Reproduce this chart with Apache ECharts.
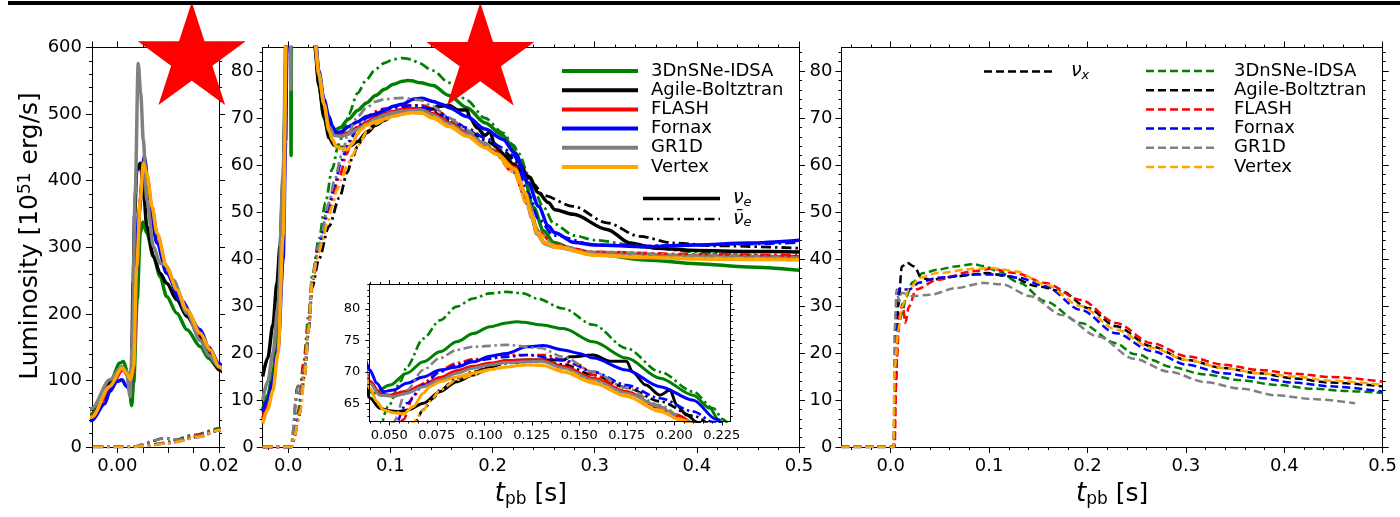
<!DOCTYPE html>
<html>
<head>
<meta charset="utf-8">
<script src="https://cdn.jsdelivr.net/npm/echarts@6/dist/echarts.min.js"></script>
<style>
  html, body { margin: 0; padding: 0; background: #fff; }
  #chart { width: 1400px; height: 517px; }
</style>
</head>
<body>
<div id="chart"></div>
<script>
// ---------------------------------------------------------------------------
// Neutrino luminosities (10^51 erg/s) versus post-bounce time t_pb (s)
// ---------------------------------------------------------------------------

// 3DnSNe-IDSA
const idsaNue = [[-0.025,8],[-0.02,11],[-0.015,16],[-0.01,25],[-0.007,35],[-0.005,50],[-0.003,72],[-0.0015,96],[0.0005,126],[0.0012,128.5],[0.0022,106],[0.0028,62],[0.0032,96],[0.0039,221],[0.0045,321],[0.005,338],[0.0058,321],[0.0071,286],[0.0084,256],[0.0097,226],[0.0117,201],[0.0137,176],[0.0163,151],[0.018,133],[0.02,117],[0.023,98],[0.026,86],[0.03,77],[0.035,70],[0.04,66.8],[0.0416,66.6],[0.0504,67.9],[0.0592,69.8],[0.0679,71.6],[0.0767,73.2],[0.0855,74.8],[0.0942,76.1],[0.103,77.2],[0.1118,77.8],[0.117,78.0],[0.1205,77.9],[0.1294,77.5],[0.1416,76.9],[0.1574,74.8],[0.1749,72.2],[0.1925,69.0],[0.21,66.3],[0.2188,64.2],[0.2232,62.4],[0.23,58],[0.24,51],[0.25,46],[0.26,43.5],[0.28,42],[0.3,41],[0.35,39.8],[0.4,39],[0.45,38.3],[0.5,37.6]];
const idsaAnue = [[-0.025,0],[0.003,0],[0.006,2],[0.008,5],[0.01,8],[0.015,18],[0.02,28],[0.0234,36.3],[0.03,44.1],[0.0365,52],[0.043,59.1],[0.0495,64.5],[0.056,68.5],[0.0592,70.8],[0.0679,75.3],[0.0767,78.2],[0.0855,80.4],[0.0942,81.7],[0.103,82.5],[0.1118,82.75],[0.1205,82.5],[0.1276,81.7],[0.1416,80.1],[0.1574,77.5],[0.1749,73.75],[0.1925,70.0],[0.21,66.85],[0.2205,64.2],[0.2258,62.4],[0.235,58],[0.25,51],[0.26,47.5],[0.28,45],[0.3,44],[0.35,42.5],[0.4,41.5],[0.45,40.8],[0.5,40.3]];
const idsaNux = [[-0.05,0],[0.003,0],[0.0045,12],[0.006,22],[0.0085,26],[0.0113,28.4],[0.016,32],[0.022,35],[0.033,37.0],[0.0475,37.7],[0.0657,38.4],[0.0839,38.9],[0.0945,38.5],[0.109,37.4],[0.131,34.9],[0.157,31.0],[0.193,26.4],[0.229,22.1],[0.247,19.8],[0.254,19.6],[0.265,18.5],[0.283,17.1],[0.32,15.4],[0.356,14.2],[0.392,13.2],[0.429,12.4],[0.465,11.9],[0.5,11.5]];

// Agile-Boltztran
const agileNue = [[-0.025,15],[-0.02,19],[-0.015,26],[-0.011,35],[-0.008,43],[-0.005,57],[-0.003,72],[-0.0015,100],[0.0009,118],[0.0018,112],[0.0026,88],[0.0028,120],[0.0031,250],[0.0034,350],[0.0038,415],[0.0045,426],[0.005,400],[0.0058,331],[0.0071,286],[0.0084,261],[0.0097,246],[0.0117,221],[0.0137,196],[0.0163,166],[0.018,140],[0.02,116],[0.023,97],[0.026,85],[0.03,77],[0.035,70.5],[0.04,65.8],[0.045,64.2],[0.05,63.8],[0.055,63.7],[0.06,63.95],[0.0679,65.0],[0.0767,66.85],[0.0855,68.45],[0.0942,69.5],[0.103,70.8],[0.1118,71.8],[0.1223,71.9],[0.1416,71.9],[0.145,72.4],[0.1574,72.7],[0.1662,71.7],[0.1749,71.7],[0.178,70.0],[0.185,67.9],[0.1925,66.3],[0.1978,67.1],[0.2013,64.7],[0.2065,63.15],[0.212,62.0],[0.22,60.2],[0.235,57.6],[0.245,54.1],[0.2547,52],[0.261,50.5],[0.279,49.5],[0.312,46.3],[0.3346,43.4],[0.36,42.3],[0.4,41.8],[0.45,41.6],[0.5,41.5]];
const agileAnue = [[-0.025,0],[0.003,0],[0.005,3],[0.007,9],[0.0085,12.5],[0.0097,13],[0.0115,11],[0.014,13],[0.017,18],[0.02,25],[0.0235,34],[0.03,40],[0.04,47],[0.05,53],[0.058,58.5],[0.0627,61.5],[0.0679,63.95],[0.0732,65.8],[0.0767,67.1],[0.0855,69.0],[0.0942,70.0],[0.103,70.8],[0.1118,71.4],[0.1294,71.7],[0.1416,71.2],[0.1574,69.5],[0.1749,67.5],[0.1925,65.3],[0.21,63],[0.225,60.5],[0.24,56],[0.25,53.5],[0.279,51.2],[0.312,47.7],[0.344,44.8],[0.377,43.4],[0.42,42.8],[0.5,42.3]];
const agileNux = [[-0.05,0],[0.003,0],[0.005,12],[0.0077,29.9],[0.0113,38.4],[0.0167,39.2],[0.024,38.4],[0.0312,36.0],[0.0403,35.6],[0.0657,36.3],[0.098,37.0],[0.12,36.3],[0.149,34.2],[0.174,33.1],[0.2,29.6],[0.229,25.7],[0.265,21.4],[0.301,18.5],[0.338,16.8],[0.374,15.7],[0.41,14.6],[0.447,13.7],[0.5,12.9]];

// FLASH
const flashNue = [[-0.025,6],[-0.02,9],[-0.015,13],[-0.01,21],[-0.005,46],[-0.0025,72],[-0.001,95],[0.001,116],[0.0018,110],[0.0026,90],[0.0032,120],[0.0038,270],[0.0045,370],[0.0051,422],[0.0058,408],[0.0068,360],[0.0078,320],[0.0097,270],[0.0117,235],[0.0137,205],[0.0163,170],[0.0183,145],[0.02,120],[0.023,100],[0.026,87],[0.03,79.5],[0.035,73],[0.04,68.5],[0.045,66.6],[0.05,66.3],[0.0592,66.9],[0.0679,68.0],[0.0767,69.1],[0.0855,70.2],[0.0942,70.9],[0.103,71.4],[0.1118,71.8],[0.1223,71.9],[0.13,71.9],[0.1416,70.9],[0.1574,69.0],[0.1749,66.85],[0.1925,64.3],[0.2,63.2],[0.222,59.5],[0.232,54],[0.2385,49],[0.2434,45.5],[0.2515,43.4],[0.261,42.7],[0.3,41.2],[0.35,40.8],[0.4,40.6],[0.45,40.5],[0.5,40.5]];
const flashAnue = [[-0.025,0],[0.003,0],[0.006,2],[0.01,6],[0.0155,18],[0.02,26],[0.0235,35],[0.03,42.5],[0.04,50.5],[0.05,57.5],[0.0574,62.4],[0.0627,66.1],[0.0679,68.2],[0.0767,70.3],[0.0855,71.4],[0.0942,72.0],[0.1118,72.7],[0.1311,72.7],[0.1499,71.1],[0.1574,69.5],[0.1749,66.85],[0.1925,64.2],[0.2,63],[0.22,58.5],[0.235,51.5],[0.245,46],[0.26,43],[0.3,41.5],[0.4,41],[0.5,40.8]];
const flashNux = [[-0.05,0],[0.004,0],[0.006,18],[0.009,28],[0.012,30.5],[0.0149,26.4],[0.0186,29.9],[0.0258,33.5],[0.0475,35.6],[0.0839,37.4],[0.102,37.9],[0.127,37.0],[0.157,34.9],[0.193,31.3],[0.229,26.4],[0.265,22.1],[0.301,19.3],[0.338,17.5],[0.374,16.4],[0.41,15.6],[0.447,14.9],[0.5,13.9]];

// Fornax
const fornaxNue = [[-0.025,7.5],[-0.02,10],[-0.015,14],[-0.01,21],[-0.005,40],[-0.0025,65],[-0.0015,83.5],[-0.0001,98.5],[0.0009,101],[0.0018,91],[0.0025,86],[0.0032,150],[0.0042,350],[0.0053,436],[0.0064,361],[0.0078,306],[0.0097,261],[0.0124,221],[0.0163,176],[0.018,150],[0.02,125],[0.023,103],[0.026,88],[0.03,80],[0.035,74],[0.0398,70.3],[0.0434,68.2],[0.047,66.85],[0.0522,67.1],[0.0592,68.2],[0.0679,69.2],[0.0767,70.3],[0.0855,70.8],[0.0942,71.6],[0.103,72.5],[0.1118,72.95],[0.1223,74.0],[0.1311,74.2],[0.1416,73.5],[0.1499,72.95],[0.1574,72.2],[0.1749,70.3],[0.1925,67.65],[0.21,65.5],[0.2223,62.4],[0.235,56.2],[0.245,51.2],[0.2547,47.0],[0.261,45.6],[0.28,43.5],[0.3,43.0],[0.35,42.6],[0.4,43.0],[0.45,43.4],[0.5,44.0]];
const fornaxAnue = [[-0.025,0],[0.003,0],[0.0045,1],[0.01,6],[0.016,15],[0.02,25],[0.0235,35],[0.03,43],[0.04,51.5],[0.045,55.5],[0.0522,61],[0.0592,65.0],[0.0679,67.9],[0.0767,70.0],[0.0855,71.1],[0.0942,71.8],[0.1118,72.4],[0.1223,72.7],[0.1416,71.9],[0.1574,70.0],[0.1749,67.9],[0.1925,65.8],[0.21,63.7],[0.2205,62],[0.235,54],[0.245,48.5],[0.26,45],[0.3,43],[0.35,42.8],[0.4,43.0],[0.45,43.2],[0.5,43.5]];
const fornaxNux = [[-0.05,0],[0.003,0],[0.0052,28.5],[0.0077,33.5],[0.0186,33.5],[0.0294,35],[0.0475,36],[0.0839,36.7],[0.109,36.7],[0.131,36.0],[0.157,34.2],[0.193,29.2],[0.229,24.2],[0.265,20.4],[0.301,17.5],[0.338,15.7],[0.374,14.7],[0.41,13.7],[0.447,12.9],[0.5,11.8]];

// GR1D
const gr1dNue = [[-0.025,10],[-0.02,14],[-0.015,20],[-0.01,30],[-0.005,58],[-0.0015,101],[0.0009,121],[0.0018,113.5],[0.0025,76],[0.0029,150],[0.0035,380],[0.0041,576],[0.0046,530],[0.0051,461],[0.0058,371],[0.0071,301],[0.0084,276],[0.0094,274],[0.011,251],[0.0137,201],[0.0163,160],[0.018,138],[0.02,120],[0.023,100],[0.026,87],[0.03,79],[0.035,73],[0.0398,68.2],[0.045,66.3],[0.0522,66.1],[0.0592,66.6],[0.0679,67.65],[0.0767,68.7],[0.0855,69.8],[0.0942,70.6],[0.103,71.1],[0.1118,71.5],[0.1223,71.6],[0.13,71.7],[0.1416,70.6],[0.1574,68.7],[0.1749,66.6],[0.1925,64.5],[0.203,62.4],[0.222,58.8],[0.232,53.8],[0.2385,48.8],[0.2434,45.3],[0.2515,43.2],[0.261,42.5],[0.3,41.0],[0.35,40.6],[0.4,40.4],[0.45,40.2],[0.5,40.0]];
const gr1dAnue = [[-0.025,0],[0.003,0],[0.005,4],[0.007,10],[0.0095,13],[0.012,11],[0.016,17],[0.02,26],[0.0235,36],[0.03,43],[0.04,52],[0.045,56.5],[0.0522,62],[0.0592,67.1],[0.0679,70.3],[0.0767,72.2],[0.0855,73.5],[0.0942,74.0],[0.1118,74.3],[0.1294,73.8],[0.1416,72.4],[0.1574,70.0],[0.1749,67.4],[0.1925,64.7],[0.206,62.3],[0.22,59],[0.235,52],[0.245,46],[0.26,43],[0.3,41.5],[0.4,40.8],[0.5,40.3]];
const gr1dNux = [[-0.05,0],[0.003,0],[0.004,24.9],[0.006,33.5],[0.0085,31],[0.0113,32.8],[0.022,32.1],[0.0403,32.4],[0.0657,33.8],[0.0945,34.9],[0.113,34.6],[0.142,32.1],[0.174,28.1],[0.211,23.5],[0.247,18.8],[0.283,16.0],[0.32,13.8],[0.356,12.4],[0.392,11.0],[0.429,10.2],[0.472,9.3]];

// Vertex
const vertexNue = [[-0.025,5],[-0.02,8],[-0.015,12],[-0.01,20],[-0.005,45],[-0.0015,91],[0.0009,118.5],[0.0018,111],[0.0026,101],[0.0032,121],[0.0038,271],[0.0045,371],[0.0051,426],[0.0058,411],[0.0068,361],[0.0078,321],[0.0097,271],[0.0117,236],[0.0137,206],[0.0163,171],[0.0183,146],[0.02,121],[0.023,100],[0.026,86],[0.03,79.5],[0.035,73],[0.0398,67.4],[0.0434,65.3],[0.047,63.95],[0.0522,63.5],[0.0574,63.3],[0.0627,64.5],[0.0679,66.6],[0.0714,67.65],[0.0767,68.45],[0.0855,69.2],[0.0942,69.8],[0.103,70.4],[0.1118,70.8],[0.1205,71.1],[0.13,71.1],[0.1416,70.0],[0.1574,68.2],[0.1749,66.1],[0.1925,63.7],[0.203,62.4],[0.222,59.1],[0.232,54.1],[0.2385,49.1],[0.2434,45.6],[0.2515,43.4],[0.261,42.7],[0.3,40.8],[0.35,40.3],[0.4,40.0],[0.45,39.9],[0.5,39.8]];
const vertexAnue = [[-0.025,0],[0.003,0],[0.006,2],[0.009,5],[0.012,8],[0.016,15],[0.02,25],[0.0235,35],[0.028,40],[0.0332,43.4],[0.038,47.5],[0.043,51.2],[0.048,54.8],[0.0528,57.5],[0.058,60],[0.0626,62],[0.0679,63.9],[0.0714,65.3],[0.0767,67.1],[0.0855,68.7],[0.0942,69.5],[0.103,70.3],[0.1118,70.8],[0.1223,71.1],[0.1294,71.0],[0.1416,70.3],[0.1574,68.45],[0.1749,66.3],[0.1925,63.95],[0.203,62.3],[0.22,58.5],[0.235,51],[0.245,45.5],[0.26,42.5],[0.3,40.8],[0.4,40.2],[0.5,39.9]];
const vertexNux = [[-0.05,0],[0.003,0],[0.004,16.4],[0.0077,24.9],[0.0113,29.9],[0.0186,33.5],[0.0294,36],[0.0475,37.0],[0.0839,37.9],[0.102,38.1],[0.127,37.4],[0.157,34.6],[0.193,30.0],[0.229,25.0],[0.265,21.1],[0.301,18.5],[0.338,16.8],[0.374,15.7],[0.41,15.0],[0.447,14.1],[0.5,13.2]];

// Star markers (time, luminosity) in the bounce panel and the main nu_e panel
const starBounce = [[0.01464, 591]];
const starMain = [[0.188, 83.6]];

// Tick labels
const bounceTimeLabels = [0.00, 0.02];
const bounceTimeTicks = [-0.005, 0.0, 0.005, 0.01, 0.015, 0.02];
const bounceLumLabels = [0, 100, 200, 300, 400, 500, 600];
const mainTimeLabels = [0.0, 0.1, 0.2, 0.3, 0.4, 0.5];
const mainLumLabels = [0, 10, 20, 30, 40, 50, 60, 70, 80];
const insetTimeLabels = [0.050, 0.075, 0.100, 0.125, 0.150, 0.175, 0.200, 0.225];
const insetLumLabels = [65, 70, 75, 80];

// ---------------------------------------------------------------------------
const FONT = 'DejaVu Sans';
const models = [
  { name: '3DnSNe-IDSA',     color: '#008000', nue: idsaNue,   anue: idsaAnue,   nux: idsaNux },
  { name: 'Agile-Boltztran', color: '#000000', nue: agileNue,  anue: agileAnue,  nux: agileNux },
  { name: 'FLASH',           color: '#ff0000', nue: flashNue,  anue: flashAnue,  nux: flashNux },
  { name: 'Fornax',          color: '#0000ff', nue: fornaxNue, anue: fornaxAnue, nux: fornaxNux },
  { name: 'GR1D',            color: '#808080', nue: gr1dNue,   anue: gr1dAnue,   nux: gr1dNux },
  { name: 'Vertex',          color: '#ffa500', nue: vertexNue, anue: vertexAnue, nux: vertexNux }
];

// minor tick positions: integer steps k/scale, skipping the major ones
function multiples(lo, hi, step, scale, skipEvery) {
  const out = [];
  for (let k = lo; k <= hi; k += step) {
    if (!skipEvery || k % skipEvery !== 0) out.push(k / scale);
  }
  return out;
}

const xAxes = [];
const yAxes = [];

function valueAxis(o) {
  const ax = {
    type: 'value', gridIndex: o.grid, position: o.pos, min: o.min, max: o.max, z: o.z,
    axisLine: { show: !!o.line, onZero: false, lineStyle: { color: '#000', width: 1 } },
    axisTick: { show: true, inside: false, length: o.len, customValues: o.ticks,
                lineStyle: { color: '#000', width: 1 } },
    axisLabel: o.labels
      ? { show: true, customValues: o.labels, formatter: o.fmt, fontSize: o.fs,
          color: '#000', fontFamily: FONT, margin: o.margin }
      : { show: false },
    splitLine: { show: false },
    axisPointer: { show: false }
  };
  if (o.name) {
    ax.name = o.name;
    ax.nameLocation = 'middle';
    ax.nameGap = o.nameGap;
    ax.nameTextStyle = o.nameStyle;
  }
  return ax;
}

// builds the four framed sides of one panel; returns indices of the data axes
function panel(g, xr, yr, s) {
  const z = s.z || 0;
  const xi = xAxes.length;
  xAxes.push(valueAxis({ grid: g, z, pos: 'bottom', min: xr[0], max: xr[1], line: true,
    ticks: s.xMajor, len: s.majLen, labels: s.xLabels, fmt: s.xFmt, fs: s.fs,
    margin: s.xMargin, name: s.xName, nameGap: s.nameGap, nameStyle: s.nameStyle }));
  if (s.xMinor) xAxes.push(valueAxis({ grid: g, z, pos: 'bottom', min: xr[0], max: xr[1], ticks: s.xMinor, len: s.minLen }));
  xAxes.push(valueAxis({ grid: g, z, pos: 'top', min: xr[0], max: xr[1], line: true, ticks: s.xMajor, len: s.majLen }));
  if (s.xMinor) xAxes.push(valueAxis({ grid: g, z, pos: 'top', min: xr[0], max: xr[1], ticks: s.xMinor, len: s.minLen }));

  const yi = yAxes.length;
  yAxes.push(valueAxis({ grid: g, z, pos: 'left', min: yr[0], max: yr[1], line: true,
    ticks: s.yMajor, len: s.majLen, labels: s.yLabels, fmt: s.yFmt, fs: s.fs, margin: s.yMargin }));
  if (s.yMinor) yAxes.push(valueAxis({ grid: g, z, pos: 'left', min: yr[0], max: yr[1], ticks: s.yMinor, len: s.minLen }));
  yAxes.push(valueAxis({ grid: g, z, pos: 'right', min: yr[0], max: yr[1], line: true, ticks: s.yMajor, len: s.majLen }));
  if (s.yMinor) yAxes.push(valueAxis({ grid: g, z, pos: 'right', min: yr[0], max: yr[1], ticks: s.yMinor, len: s.minLen }));
  return { xi, yi };
}

const tpbName = '{t|t}{s|pb}{u| [s]}';
const tpbStyle = {
  fontFamily: FONT, color: '#000', fontSize: 25,
  rich: {
    t: { fontFamily: FONT, fontStyle: 'italic', fontSize: 26, color: '#000' },
    s: { fontFamily: FONT, fontSize: 17, color: '#000', verticalAlign: 'bottom', padding: [10, 0, 0, 0] },
    u: { fontFamily: FONT, fontSize: 25, color: '#000' }
  }
};
const fmtInt = v => String(Math.round(v));

const grids = [
  { left: 92,    top: 47.5, width: 127,   height: 399.5 },
  { left: 262.7, top: 47.5, width: 536.3, height: 399.5 },
  { left: 369.3, top: 284,  width: 361.4, height: 137.5, show: true,
    backgroundColor: '#ffffff', borderWidth: 0, z: 5 },
  { left: 841.5, top: 47.5, width: 541.5, height: 399.5 }
];

const pBounce = panel(0, [-0.005, 0.02], [0, 600], {
  xMajor: bounceTimeTicks, xLabels: bounceTimeLabels, xFmt: v => v.toFixed(2),
  yMajor: bounceLumLabels, yMinor: multiples(0, 600, 20, 1, 100), yLabels: bounceLumLabels, yFmt: fmtInt,
  majLen: 6, minLen: 3, fs: 18, xMargin: 10, yMargin: 10
});
const pMain = panel(1, [-0.025, 0.5], [0, 85], {
  xMajor: mainTimeLabels, xMinor: multiples(-2, 50, 2, 100, 10), xLabels: mainTimeLabels, xFmt: v => v.toFixed(1),
  yMajor: mainLumLabels, yMinor: multiples(0, 84, 2, 1, 10), yLabels: mainLumLabels, yFmt: fmtInt,
  majLen: 6, minLen: 3, fs: 18, xMargin: 10, yMargin: 9,
  xName: tpbName, nameGap: 34, nameStyle: tpbStyle
});
const pInset = panel(2, [0.0395, 0.2297], [62.1, 84], {
  xMajor: insetTimeLabels, xMinor: multiples(40, 229, 5, 1000, 25), xLabels: insetTimeLabels, xFmt: v => v.toFixed(3),
  yMajor: insetLumLabels, yMinor: multiples(63, 84, 1, 1, 5), yLabels: insetLumLabels, yFmt: fmtInt,
  majLen: 4, minLen: 2, fs: 13, xMargin: 8, yMargin: 9, z: 7
});
const pHeavy = panel(3, [-0.05, 0.5], [0, 85], {
  xMajor: mainTimeLabels, xMinor: multiples(-4, 50, 2, 100, 10), xLabels: mainTimeLabels, xFmt: v => v.toFixed(1),
  yMajor: mainLumLabels, yMinor: multiples(0, 84, 2, 1, 10), yLabels: mainLumLabels, yFmt: fmtInt,
  majLen: 6, minLen: 3, fs: 18, xMargin: 10, yMargin: 9,
  xName: tpbName, nameGap: 34, nameStyle: tpbStyle
});

const DASH_DOT = [10, 4, 2.5, 4];
const DASHED = [8, 4];

function line(name, data, p, color, width, dash, z) {
  return {
    type: 'line', name, data, xAxisIndex: p.xi, yAxisIndex: p.yi,
    showSymbol: false, symbol: 'none', smooth: 0.3, smoothMonotone: 'x',
    lineStyle: { color, width, type: dash || 'solid', cap: 'butt', join: 'round' },
    z, silent: true, animation: false, clip: true
  };
}

const series = [];
models.forEach(m => {
  series.push(line(m.name, m.nue,  pBounce, m.color, 3.5, null, 2));
  series.push(line(m.name, m.anue, pBounce, m.color, 2.6, DASH_DOT, 2));
});
models.forEach(m => {
  series.push(line(m.name, m.nue,  pMain, m.color, 3.5, null, 2));
  series.push(line(m.name, m.anue, pMain, m.color, 2.8, DASH_DOT, 2));
});
models.forEach(m => {
  series.push(line(m.name, m.nue,  pInset, m.color, 3, null, 6));
  series.push(line(m.name, m.anue, pInset, m.color, 2.6, [9, 3.5, 2.5, 3.5], 6));
});
models.forEach(m => {
  series.push(line(m.name, m.nux, pHeavy, m.color, 2.5, DASHED, 2));
});

// five-pointed star outline (inner/outer radius 0.382)
const STAR = 'path://M0,-100L22.45,-30.9L95.11,-30.9L36.33,11.8L58.78,80.9L0,38.2L-58.78,80.9L-36.33,11.8L-95.11,-30.9L-22.45,-30.9Z';
function stars(data, p) {
  return {
    type: 'scatter', data, xAxisIndex: p.xi, yAxisIndex: p.yi,
    symbol: STAR, symbolSize: [108, 103], symbolKeepAspect: false,
    itemStyle: { color: '#ff0000', opacity: 1 }, clip: false, z: 20, silent: true, animation: false
  };
}
series.push(stars(starBounce, pBounce));
series.push(stars(starMain, pMain));

// ---------------------------------------------------------------------------
// Legends and titles
const graphic = [];
graphic.push({ type: 'rect', shape: { x: 8, y: 1, width: 1392, height: 4 }, style: { fill: '#000' }, z: 30 });
graphic.push({
  type: 'text', x: 30, y: 236, rotation: Math.PI / 2, z: 30,
  style: {
    text: '{a|Luminosity [10}{b|51}{a| erg/s]}',
    align: 'center', verticalAlign: 'middle',
    rich: {
      a: { fontFamily: FONT, fontSize: 25, fill: '#000' },
      b: { fontFamily: FONT, fontSize: 17, fill: '#000', verticalAlign: 'top' }
    }
  }
});

const ROW0 = 71, ROW_STEP = 19.2;
models.forEach((m, i) => {
  const y = ROW0 + ROW_STEP * i;
  graphic.push({ type: 'line', z: 30, shape: { x1: 562, y1: y, x2: 638, y2: y },
                 style: { stroke: m.color, lineWidth: 4 } });
  graphic.push({ type: 'text', x: 651, y: y, z: 30,
                 style: { text: m.name, fontFamily: FONT, fontSize: 18, fill: '#000', verticalAlign: 'middle' } });
  graphic.push({ type: 'line', z: 30, shape: { x1: 1146, y1: y, x2: 1216, y2: y },
                 style: { stroke: m.color, lineWidth: 2.5, lineDash: DASHED } });
  graphic.push({ type: 'text', x: 1234, y: y, z: 30,
                 style: { text: m.name, fontFamily: FONT, fontSize: 18, fill: '#000', verticalAlign: 'middle' } });
});

const nuRich = {
  n: { fontFamily: FONT, fontStyle: 'italic', fontSize: 19, fill: '#000' },
  s: { fontFamily: FONT, fontStyle: 'italic', fontSize: 13, fill: '#000', verticalAlign: 'bottom', padding: [8, 0, 0, 0] }
};
graphic.push({ type: 'line', z: 30, shape: { x1: 643, y1: 198.5, x2: 720, y2: 198.5 },
               style: { stroke: '#000', lineWidth: 3.5 } });
graphic.push({ type: 'text', x: 733, y: 198.5, z: 30,
               style: { text: '{n|ν}{s|e}', rich: nuRich, verticalAlign: 'middle' } });
graphic.push({ type: 'line', z: 30, shape: { x1: 643, y1: 219, x2: 720, y2: 219 },
               style: { stroke: '#000', lineWidth: 2.5, lineDash: DASH_DOT } });
graphic.push({ type: 'text', x: 733, y: 219, z: 30,
               style: { text: '{n|ν\u0304}{s|e}', rich: nuRich, verticalAlign: 'middle' } });
graphic.push({ type: 'line', z: 30, shape: { x1: 984, y1: 71.5, x2: 1053, y2: 71.5 },
               style: { stroke: '#000', lineWidth: 2.5, lineDash: DASHED } });
graphic.push({ type: 'text', x: 1071, y: 71.5, z: 30,
               style: { text: '{n|ν}{s|x}', rich: nuRich, verticalAlign: 'middle' } });

const chart = echarts.init(document.getElementById('chart'), null, { renderer: 'canvas' });
chart.setOption({
  backgroundColor: '#ffffff',
  animation: false,
  textStyle: { fontFamily: FONT },
  grid: grids,
  xAxis: xAxes,
  yAxis: yAxes,
  series,
  graphic
});
</script>
</body>
</html>
